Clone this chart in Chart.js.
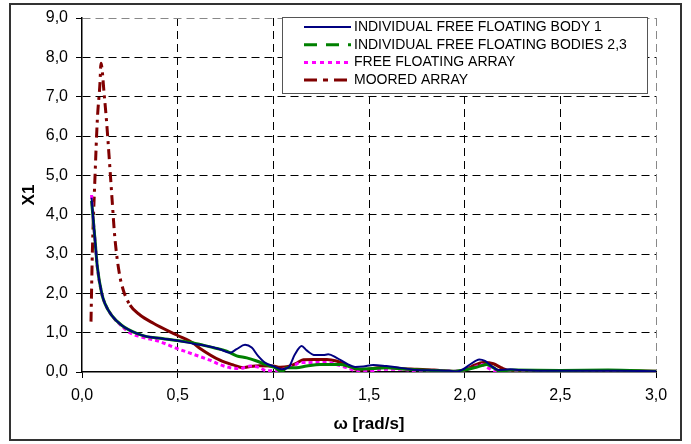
<!DOCTYPE html>
<html lang="en">
    <head>
        <meta charset="UTF-8" />
        <title>X1 response</title>
        <style>
            body {
                margin: 0;
                background: #fff;
                font-family: "Liberation Sans", Arial, sans-serif;
            }
            #wrap {
                width: 691px;
                height: 444px;
            }
        </style>
    </head>
    <body>
        <div id="wrap">
            <canvas id="chart" width="691" height="444"></canvas>
        </div>

        <script src="https://cdn.jsdelivr.net/npm/chart.js"></script>
        <script>
            // Individual free floating body 1
            const body1W = [0.05, 0.059, 0.068, 0.08, 0.103, 0.12, 0.155, 0.207, 0.286, 0.338, 0.408, 0.495, 0.582, 0.652, 0.72, 0.774, 0.808, 0.852, 0.887, 0.92, 0.956, 1.0, 1.044, 1.078, 1.113, 1.148, 1.174, 1.218, 1.261, 1.287, 1.331, 1.384, 1.427, 1.47, 1.523, 1.59, 1.66, 1.75, 1.84, 1.92, 1.96, 1.993, 2.028, 2.077, 2.106, 2.14, 2.176, 2.237, 2.29, 2.4, 2.6, 2.8, 3.0];
            const body1X = [4.43, 3.86, 3.36, 2.68, 2.0, 1.74, 1.44, 1.19, 0.98, 0.9, 0.86, 0.8, 0.72, 0.66, 0.58, 0.49, 0.58, 0.69, 0.62, 0.41, 0.24, 0.15, 0.07, 0.11, 0.45, 0.66, 0.55, 0.43, 0.43, 0.45, 0.36, 0.21, 0.13, 0.14, 0.18, 0.15, 0.11, 0.05, 0.04, 0.03, 0.01, 0.07, 0.19, 0.32, 0.28, 0.15, 0.05, 0.07, 0.05, 0.03, 0.03, 0.03, 0.02];

            // Individual free floating bodies 2,3
            const bodies23W = [0.05, 0.059, 0.068, 0.08, 0.103, 0.12, 0.155, 0.207, 0.286, 0.338, 0.408, 0.495, 0.582, 0.617, 0.686, 0.756, 0.808, 0.861, 0.913, 0.965, 1.009, 1.044, 1.07, 1.12, 1.174, 1.244, 1.296, 1.35, 1.4, 1.453, 1.52, 1.59, 1.7, 1.84, 1.95, 2.0, 2.06, 2.115, 2.15, 2.18, 2.25, 2.5, 2.75, 3.0];
            const bodies23X = [4.35, 3.86, 3.36, 2.68, 2.0, 1.74, 1.44, 1.19, 0.98, 0.9, 0.86, 0.8, 0.74, 0.7, 0.62, 0.53, 0.41, 0.36, 0.28, 0.18, 0.11, 0.01, 0.11, 0.11, 0.15, 0.19, 0.19, 0.19, 0.13, 0.07, 0.09, 0.11, 0.07, 0.04, 0.02, 0.05, 0.12, 0.19, 0.11, 0.03, 0.05, 0.04, 0.05, 0.02];

            // Free floating array
            const freeW = [0.05, 0.059, 0.068, 0.08, 0.103, 0.12, 0.155, 0.207, 0.25, 0.303, 0.408, 0.495, 0.582, 0.669, 0.72, 0.774, 0.826, 0.878, 0.93, 0.965, 1.0, 1.052, 1.105, 1.139, 1.209, 1.279, 1.33, 1.384, 1.453, 1.5, 1.558, 1.66, 1.75, 1.85, 1.95, 2.0, 2.05, 2.09, 2.12, 2.16, 2.22, 2.4, 2.7, 3.0];
            const freeX = [4.5, 3.86, 3.36, 2.68, 2.0, 1.74, 1.44, 1.17, 1.0, 0.9, 0.77, 0.6, 0.45, 0.3, 0.19, 0.11, 0.09, 0.15, 0.11, 0.03, 0.03, 0.07, 0.15, 0.24, 0.24, 0.24, 0.19, 0.11, 0.01, 0.01, 0.07, 0.07, 0.03, 0.03, 0.02, 0.05, 0.12, 0.19, 0.11, 0.02, 0.03, 0.03, 0.02, 0.01];

            // Moored array
            const mooredW = [0.047, 0.054, 0.068, 0.08, 0.094, 0.099, 0.117, 0.129, 0.143, 0.158, 0.172, 0.195, 0.216, 0.251, 0.303, 0.373, 0.495, 0.582, 0.617, 0.721, 0.79, 0.843, 0.878, 0.93, 1.0, 1.035, 1.078, 1.12, 1.157, 1.21, 1.28, 1.33, 1.384, 1.418, 1.47, 1.52, 1.59, 1.66, 1.75, 1.84, 1.92, 1.96, 2.01, 2.054, 2.097, 2.15, 2.19, 2.24, 2.4, 2.7, 3.0];
            const mooredX = [1.28, 3.02, 4.97, 6.4, 7.35, 7.85, 7.0, 6.33, 5.39, 4.33, 3.4, 2.51, 2.08, 1.7, 1.45, 1.24, 0.94, 0.73, 0.6, 0.3, 0.18, 0.11, 0.14, 0.16, 0.15, 0.12, 0.14, 0.22, 0.31, 0.32, 0.32, 0.28, 0.18, 0.09, 0.05, 0.09, 0.12, 0.09, 0.07, 0.05, 0.02, 0.01, 0.07, 0.18, 0.24, 0.21, 0.11, 0.03, 0.03, 0.03, 0.02];

            const seriesNames = [
                "INDIVIDUAL FREE FLOATING BODY 1",
                "INDIVIDUAL FREE FLOATING BODIES 2,3",
                "FREE FLOATING ARRAY",
                "MOORED ARRAY",
            ];

            function toPoints(ws, xs) {
                return ws.map((w, i) => ({ x: w, y: xs[i] }));
            }

            function fmt(v) {
                return Number(v).toFixed(1).replace(".", ",");
            }

            // the excel chart only shows the dash-dot where points are far apart
            const dashDot = [10, 5, 3, 5];

            // outer frame + legend box inside the plot
            const frameLegend = {
                id: "frameLegend",
                beforeDraw(chart) {
                    const c = chart.ctx;
                    c.save();
                    c.fillStyle = "#fff";
                    c.fillRect(0, 0, chart.width, chart.height);
                    c.strokeStyle = "#333";
                    c.lineWidth = 2;
                    c.strokeRect(10, 4, 671, 436);
                    c.restore();
                },
                afterDatasetsDraw(chart) {
                    const c = chart.ctx;
                    const a = chart.chartArea;
                    const left = a.right - 374;
                    const top = a.top - 1;
                    c.save();
                    c.fillStyle = "#fff";
                    c.fillRect(left, top, 365, 76);
                    c.strokeStyle = "#555";
                    c.lineWidth = 1;
                    c.strokeRect(left + 0.5, top + 0.5, 365, 76);
                    c.font = "14px 'Liberation Sans', Arial, sans-serif";
                    c.textBaseline = "middle";
                    chart.data.datasets.forEach((ds, i) => {
                        const y = top + 10 + i * 17.7;
                        c.beginPath();
                        c.strokeStyle = ds.borderColor;
                        c.lineWidth = ds.legendWidth;
                        c.setLineDash(ds.legendDash);
                        c.moveTo(left + 22, y);
                        c.lineTo(left + 69, y);
                        c.stroke();
                        c.setLineDash([]);
                        c.fillStyle = "#000";
                        c.fillText(ds.label, left + 72, y);
                    });
                    c.restore();
                },
            };

            const ctx = document.getElementById("chart").getContext("2d");
            const chart = new Chart(ctx, {
                type: "line",
                data: {
                    datasets: [
                        {
                            label: seriesNames[0],
                            data: toPoints(body1W, body1X),
                            borderColor: "#000080",
                            borderWidth: 2,
                            legendWidth: 2,
                            legendDash: [],
                        },
                        {
                            label: seriesNames[1],
                            data: toPoints(bodies23W, bodies23X),
                            borderColor: "#008000",
                            borderWidth: 3,
                            legendWidth: 3,
                            legendDash: [13, 9],
                        },
                        {
                            label: seriesNames[2],
                            data: toPoints(freeW, freeX),
                            borderColor: "#ff00ff",
                            borderWidth: 3,
                            borderDash: [4, 3],
                            legendWidth: 3,
                            legendDash: [4, 4],
                        },
                        {
                            label: seriesNames[3],
                            data: toPoints(mooredW, mooredX),
                            borderColor: "#800000",
                            borderWidth: 3,
                            legendWidth: 3,
                            legendDash: [13, 6, 5, 6],
                            segment: {
                                borderDash: (s) =>
                                    s.p0.parsed.x < 0.25 ? dashDot : [],
                            },
                        },
                    ],
                },
                options: {
                    responsive: false,
                    animation: false,
                    parsing: true,
                    layout: {
                        padding: { left: 0, top: 18, right: 35, bottom: 0 },
                    },
                    elements: {
                        point: { radius: 0 },
                        line: { cubicInterpolationMode: "monotone" },
                    },
                    plugins: {
                        legend: { display: false },
                        tooltip: { enabled: false },
                    },
                    scales: {
                        x: {
                            type: "linear",
                            min: 0,
                            max: 3,
                            afterFit: (s) => {
                                s.height = 72;
                            },
                            ticks: {
                                stepSize: 0.5,
                                padding: 8,
                                color: "#000",
                                font: { family: "'Liberation Sans', Arial", size: 16 },
                                callback: fmt,
                            },
                            grid: {
                                color: (c) =>
                                    c.tick && c.tick.value === 3 ? "#888" : c.tick && c.tick.value === 0 ? "rgba(0,0,0,0)" : "#000",
                                lineWidth: 1,
                                tickLength: 6,
                                tickColor: "#000",
                                tickBorderDash: [0, 0],
                            },
                            border: { display: true, color: "#000", width: 1.5, dash: [8, 5] },
                            title: {
                                display: true,
                                text: "ω [rad/s]",
                                color: "#000",
                                font: { family: "'Liberation Sans', Arial", size: 17, weight: "bold" },
                                padding: { top: 0, bottom: 9 },
                            },
                        },
                        y: {
                            min: 0,
                            max: 9,
                            afterFit: (s) => {
                                s.width = 82;
                            },
                            ticks: {
                                stepSize: 1,
                                padding: 8,
                                color: "#000",
                                font: { family: "'Liberation Sans', Arial", size: 16 },
                                callback: fmt,
                            },
                            grid: {
                                color: (c) =>
                                    c.tick && c.tick.value === 9 ? "#888" : c.tick && c.tick.value === 0 ? "rgba(0,0,0,0)" : "#000",
                                lineWidth: 1,
                                tickLength: 6,
                                tickColor: "#000",
                                tickBorderDash: [0, 0],
                            },
                            border: { display: true, color: "#000", width: 1.5, dash: [8, 5] },
                            title: {
                                display: true,
                                text: "X1",
                                color: "#000",
                                font: { family: "'Liberation Sans', Arial", size: 17, weight: "bold" },
                                padding: { top: 19, bottom: 0 },
                            },
                        },
                    },
                },
                plugins: [frameLegend],
            });
        </script>
    </body>
</html>
